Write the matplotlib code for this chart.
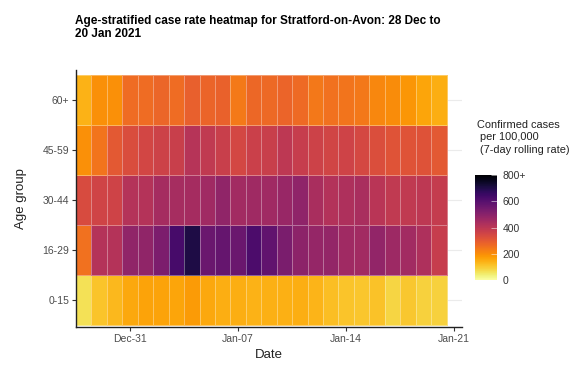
import matplotlib
matplotlib.use("Agg")
import matplotlib.pyplot as plt
import matplotlib.dates as mdates
import numpy as np
import pandas as pd

plt.rcParams['font.family'] = ['Liberation Sans', 'DejaVu Sans']

dates = pd.date_range('2020-12-28', '2021-01-20', freq='D')
age_groups = ['0-15', '16-29', '30-44', '45-59', '60+']

rate_0_15 = [65, 112, 130, 155, 165, 165, 160, 178, 155, 145, 145, 140,
             142, 142, 145, 135, 120, 110, 108, 115, 82, 105, 88, 90]
rate_16_29 = [250, 415, 415, 485, 485, 525, 630, 705, 560, 570, 560, 620,
              580, 530, 495, 475, 480, 455, 452, 482, 462, 452, 428, 375]
rate_30_44 = [335, 355, 358, 415, 415, 445, 442, 445, 455, 485, 450, 458,
              455, 470, 490, 435, 418, 428, 435, 405, 390, 388, 395, 380]
rate_45_59 = [195, 245, 300, 330, 348, 360, 370, 410, 390, 370, 345, 368,
              370, 395, 378, 360, 352, 358, 342, 328, 315, 315, 318, 300]
rate_60p = [140, 195, 195, 262, 262, 272, 262, 285, 275, 282, 235, 270,
            268, 278, 265, 238, 250, 245, 238, 210, 200, 185, 160, 145]

cbar_ticks = [0, 200, 400, 600, 800]
cbar_labels = ['0', '200', '400', '600', '800+']

values = np.array([rate_0_15, rate_16_29, rate_30_44, rate_45_59, rate_60p], dtype=float)

fig = plt.figure(figsize=(5.81, 3.72), dpi=100)
ax = fig.add_axes([76/581, 1-327/372, 386/581, 257/372])

xnum = mdates.date2num(dates)
xedges = np.concatenate([xnum - 0.5, [xnum[-1] + 0.5]])
yedges = np.arange(len(age_groups) + 1) - 0.5

# grid lines (drawn beneath tiles)
for i in range(len(age_groups)):
    ax.axhline(i, color='#ebebeb', lw=0.8, zorder=0)

mesh = ax.pcolormesh(xedges, yedges, np.clip(values, 0, 800), cmap='inferno_r',
                     vmin=0, vmax=800, edgecolors=(1, 1, 1, 0.35),
                     linewidth=0.6, zorder=1)

ax.set_xlim(xnum[0] - 0.5, xnum[-1] + 1.5)
ax.set_ylim(-0.54, 4.6)
ax.set_yticks(range(len(age_groups)))
ax.set_yticklabels(age_groups)

tick_dates = pd.to_datetime(['2020-12-31', '2021-01-07', '2021-01-14', '2021-01-21'])
ax.set_xticks(mdates.date2num(tick_dates))
ax.xaxis.set_major_formatter(mdates.DateFormatter('%b-%d'))

for s in ['top', 'right']:
    ax.spines[s].set_visible(False)
for s in ['left', 'bottom']:
    ax.spines[s].set_color('#222222')
    ax.spines[s].set_linewidth(1.0)
ax.tick_params(axis='both', length=3, width=0.8, color='#333333',
               labelsize=7.5, labelcolor='#4d4d4d', pad=2)

ax.set_xlabel('Date', fontsize=9.5, color='#222222', labelpad=4)
ax.set_ylabel('Age group', fontsize=9.5, color='#222222', labelpad=11)

fig.text(75/581, 1-15/372,
         'Age-stratified case rate heatmap for Stratford-on-Avon: 28 Dec to\n20 Jan 2021',
         fontsize=8.5, fontweight='bold', ha='left', va='top', linespacing=1.1)

# colorbar
cax = fig.add_axes([475/581, 1-280/372, 22/581, 105/372])
cb = fig.colorbar(mesh, cax=cax, ticks=cbar_ticks)
cb.outline.set_visible(False)
cb.ax.set_yticklabels(cbar_labels)
cb.ax.tick_params(length=4, width=0.6, color=(1, 1, 1, 0.6), direction='in',
                  labelsize=7.5, labelcolor='#333333', pad=4)

fig.text(477/581, 1-120/372, 'Confirmed cases\n per 100,000\n (7-day rolling rate)',
         fontsize=7.9, ha='left', va='top', color='#222222', linespacing=1.3)

fig.savefig('out.png', dpi=100)
